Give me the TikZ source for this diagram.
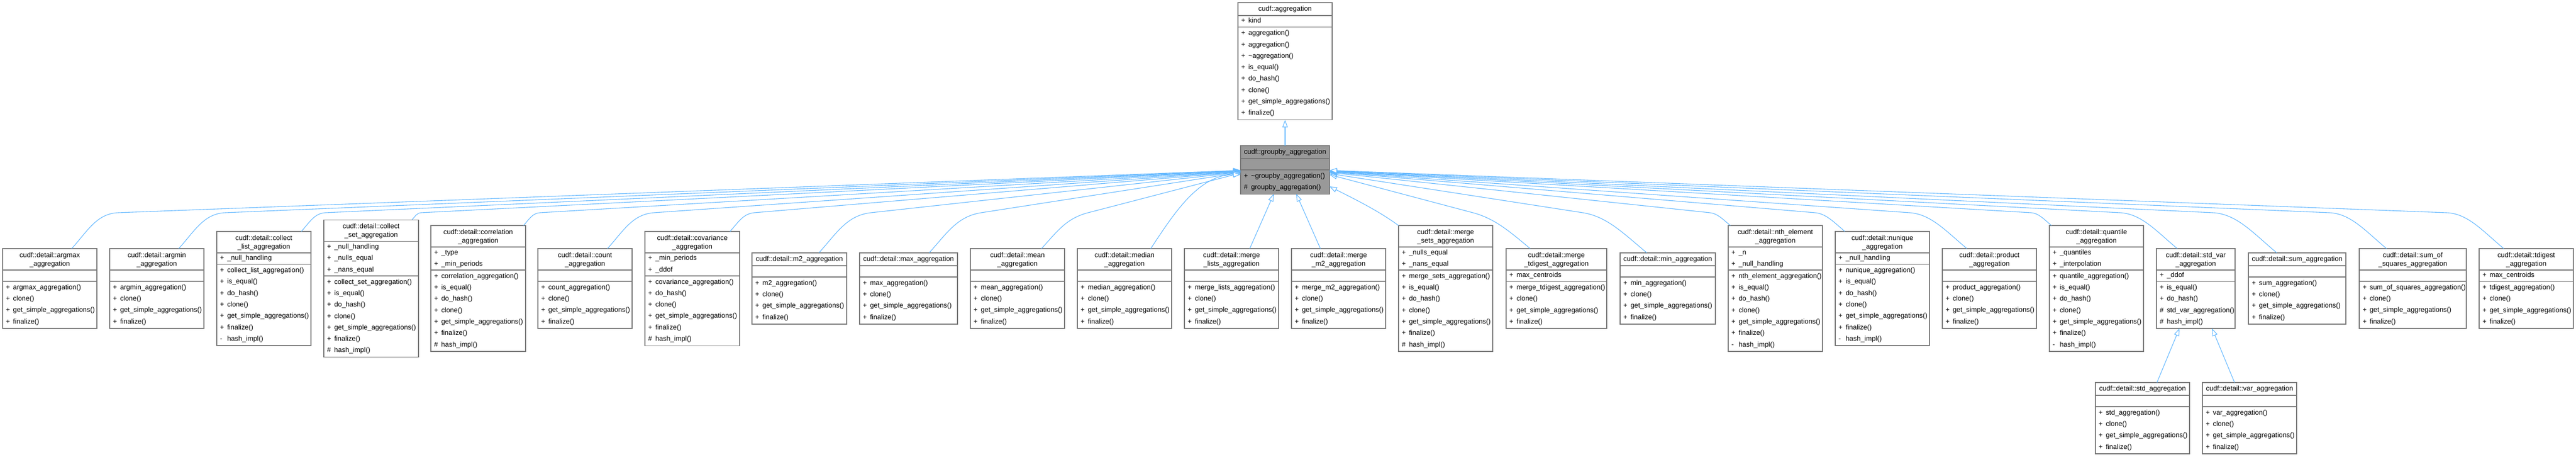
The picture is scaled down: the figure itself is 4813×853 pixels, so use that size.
\documentclass[tikz,border=0pt]{standalone}
\usepackage{fontspec}
\setmainfont{Liberation Sans}
\usetikzlibrary{arrows.meta}
\definecolor{edgeblue}{HTML}{63B8FF}
\definecolor{boxgray}{HTML}{777777}
\definecolor{gbfill}{HTML}{999999}
\tikzset{
  every node/.style={font=\fontsize{12.9pt}{16pt}\selectfont, inner sep=0pt, text=black},
  clsframe/.style={draw=boxgray, line width=1.5pt, rectangle, inner sep=0pt, outer sep=0pt},
  sepline/.style={draw=boxgray, line width=1.5pt},
  ttl/.style={align=center},
  mem/.style={anchor=west, text height=9pt, text depth=2.5pt},
  inh/.style={draw=edgeblue, line width=1.1pt, -{Triangle[length=14pt,width=10pt,fill=white]}},
}
% class box: #1 name, #2 x left, #3 y centre, #4 width, #5 fill, #6 title lines, #7 attrs, #8 methods
\newcommand\clsbox[8]{%
  \pgfmathsetmacro\ctH{(#6==1) ? 24 : 40}%
  \pgfmathsetmacro\caH{(#7==0) ? 21 : 21.5*#7}%
  \pgfmathsetmacro\cmH{21.3*#8+2.7}%
  \pgfmathsetmacro\cbH{\ctH+\caH+\cmH}%
  \pgfmathsetmacro\cyT{#3-\cbH/2}%
  \pgfmathsetmacro\cyA{\cyT+\ctH}%
  \pgfmathsetmacro\cyM{\cyA+\caH}%
  \pgfmathsetmacro\cxL{#2}%
  \pgfmathsetmacro\cxR{#2+#4}%
  \pgfmathsetmacro\cxC{#2+#4/2}%
  \pgfmathsetmacro\cyTC{\cyT+((#6==1) ? 12.5 : 21)}%
  \node[clsframe, fill=#5, minimum width=#4pt, minimum height=\cbH pt, anchor=north west] (#1) at (\cxL,\cyT) {};%
  \draw[sepline] (\cxL,\cyA) -- (\cxR,\cyA) (\cxL,\cyM) -- (\cxR,\cyM);%
  \def\curname{#1}%
}
\newcommand\clstitle[1]{\node[ttl] (\curname-t) at (\cxC,\cyTC) {#1};}
\newcommand\clsattrs[1]{%
  \foreach \sym/\mname [count=\i] in {#1} {%
    \node[mem] (\curname-a\i) at (\cxL+6, \cyA+21.5*\i-10.75) {\makebox[13.3pt][l]{\sym}\mname};}}
\newcommand\clsmeths[1]{%
  \foreach \sym/\mname [count=\i] in {#1} {%
    \node[mem] (\curname-m\i) at (\cxL+6, \cyM+1.35+21.3*\i-10.65) {\makebox[13.3pt][l]{\sym}\mname};}}
% edges to the left / right side of groupby_aggregation
\newcommand\edgeL[4]{%
  \pgfmathsetmacro\ehh{#3-397}%
  \pgfmathsetmacro\ebx{#2+1.3*\ehh}%
  \pgfmathsetmacro\eslope{(#4-397)/(2318-\ebx)}%
  \pgfmathsetmacro\eax{0.45*\ehh}%
  \pgfmathsetmacro\eay{-0.5*\ehh}%
  \pgfmathsetmacro\ecx{-0.6*\ehh}%
  \pgfmathsetmacro\ecy{-0.6*\ehh*\eslope}%
  \coordinate (#1-s) at (#2,#3);%
  \coordinate (#1-b) at (\ebx,397);%
  \coordinate (#1-e) at (2318,#4);%
  \draw[inh] (#1-s) .. controls +(\eax,\eay) and +(\ecx,\ecy) .. (#1-b) -- (#1-e);%
}
\newcommand\edgeR[4]{%
  \pgfmathsetmacro\ehh{#3-397}%
  \pgfmathsetmacro\ebx{#2-1.6*\ehh}%
  \pgfmathsetmacro\eslope{(#4-397)/(\ebx-2484)}%
  \pgfmathsetmacro\eax{-0.6*\ehh}%
  \pgfmathsetmacro\eay{-0.5*\ehh}%
  \pgfmathsetmacro\ecx{0.6*\ehh}%
  \pgfmathsetmacro\ecy{-0.6*\ehh*\eslope}%
  \coordinate (#1-s) at (#2,#3);%
  \coordinate (#1-b) at (\ebx,397);%
  \coordinate (#1-e) at (2484,#4);%
  \draw[inh] (#1-s) .. controls +(\eax,\eay) and +(\ecx,\ecy) .. (#1-b) -- (#1-e);%
}
\begin{document}
\begin{tikzpicture}[x=1pt,y=-1pt]
\path[fill=white,use as bounding box] (0,0) rectangle (4813,853);

% ---- top classes
\clsbox{agg}{2313}{114.3}{176}{white}{1}{1}{8}
\clstitle{cudf::aggregation}
\clsattrs{+/kind}
\clsmeths{+/aggregation(),+/aggregation(),+/\textasciitilde aggregation(),+/is\_equal(),+/do\_hash(),+/clone(),+/get\_simple\_aggregations(),+/finalize()}

\clsbox{gb}{2318}{317.15}{166}{gbfill}{1}{0}{2}
\clstitle{cudf::groupby\_aggregation}
\clsmeths{+/\textasciitilde groupby\_aggregation(),\#/groupby\_aggregation()}

% ---- bottom row
\clsbox{argmax}{5}{538.5}{176}{white}{2}{0}{4}
\clstitle{cudf::detail::argmax\\\_aggregation}
\clsmeths{+/argmax\_aggregation(),+/clone(),+/get\_simple\_aggregations(),+/finalize()}

\clsbox{argmin}{205}{538.5}{176}{white}{2}{0}{4}
\clstitle{cudf::detail::argmin\\\_aggregation}
\clsmeths{+/argmin\_aggregation(),+/clone(),+/get\_simple\_aggregations(),+/finalize()}

\clsbox{collectlist}{405}{538.5}{176}{white}{2}{1}{7}
\clstitle{cudf::detail::collect\\\_list\_aggregation}
\clsattrs{+/\_null\_handling}
\clsmeths{+/collect\_list\_aggregation(),+/is\_equal(),+/do\_hash(),+/clone(),+/get\_simple\_aggregations(),+/finalize(),-/hash\_impl()}

\clsbox{collectset}{605}{538.5}{177}{white}{2}{3}{7}
\clstitle{cudf::detail::collect\\\_set\_aggregation}
\clsattrs{+/\_null\_handling,+/\_nulls\_equal,+/\_nans\_equal}
\clsmeths{+/collect\_set\_aggregation(),+/is\_equal(),+/do\_hash(),+/clone(),+/get\_simple\_aggregations(),+/finalize(),\#/hash\_impl()}

\clsbox{correlation}{805}{538.5}{177}{white}{2}{2}{7}
\clstitle{cudf::detail::correlation\\\_aggregation}
\clsattrs{+/\_type,+/\_min\_periods}
\clsmeths{+/correlation\_aggregation(),+/is\_equal(),+/do\_hash(),+/clone(),+/get\_simple\_aggregations(),+/finalize(),\#/hash\_impl()}

\clsbox{count}{1005}{538.5}{176}{white}{2}{0}{4}
\clstitle{cudf::detail::count\\\_aggregation}
\clsmeths{+/count\_aggregation(),+/clone(),+/get\_simple\_aggregations(),+/finalize()}

\clsbox{covariance}{1205}{538.5}{177}{white}{2}{2}{6}
\clstitle{cudf::detail::covariance\\\_aggregation}
\clsattrs{+/\_min\_periods,+/\_ddof}
\clsmeths{+/covariance\_aggregation(),+/do\_hash(),+/clone(),+/get\_simple\_aggregations(),+/finalize(),\#/hash\_impl()}

\clsbox{mtwo}{1405}{538.5}{177}{white}{1}{0}{4}
\clstitle{cudf::detail::m2\_aggregation}
\clsmeths{+/m2\_aggregation(),+/clone(),+/get\_simple\_aggregations(),+/finalize()}

\clsbox{max}{1606}{538.5}{183}{white}{1}{0}{4}
\clstitle{cudf::detail::max\_aggregation}
\clsmeths{+/max\_aggregation(),+/clone(),+/get\_simple\_aggregations(),+/finalize()}

\clsbox{mean}{1813}{538.5}{176}{white}{2}{0}{4}
\clstitle{cudf::detail::mean\\\_aggregation}
\clsmeths{+/mean\_aggregation(),+/clone(),+/get\_simple\_aggregations(),+/finalize()}

\clsbox{median}{2013}{538.5}{176}{white}{2}{0}{4}
\clstitle{cudf::detail::median\\\_aggregation}
\clsmeths{+/median\_aggregation(),+/clone(),+/get\_simple\_aggregations(),+/finalize()}

\clsbox{mergelists}{2213}{538.5}{176}{white}{2}{0}{4}
\clstitle{cudf::detail::merge\\\_lists\_aggregation}
\clsmeths{+/merge\_lists\_aggregation(),+/clone(),+/get\_simple\_aggregations(),+/finalize()}

\clsbox{mergemtwo}{2413}{538.5}{176}{white}{2}{0}{4}
\clstitle{cudf::detail::merge\\\_m2\_aggregation}
\clsmeths{+/merge\_m2\_aggregation(),+/clone(),+/get\_simple\_aggregations(),+/finalize()}

\clsbox{mergesets}{2613}{538.5}{176}{white}{2}{2}{7}
\clstitle{cudf::detail::merge\\\_sets\_aggregation}
\clsattrs{+/\_nulls\_equal,+/\_nans\_equal}
\clsmeths{+/merge\_sets\_aggregation(),+/is\_equal(),+/do\_hash(),+/clone(),+/get\_simple\_aggregations(),+/finalize(),\#/hash\_impl()}

\clsbox{mergetdigest}{2814}{538.5}{188}{white}{2}{1}{4}
\clstitle{cudf::detail::merge\\\_tdigest\_aggregation}
\clsattrs{+/max\_centroids}
\clsmeths{+/merge\_tdigest\_aggregation(),+/clone(),+/get\_simple\_aggregations(),+/finalize()}

\clsbox{min}{3027}{538.5}{178}{white}{1}{0}{4}
\clstitle{cudf::detail::min\_aggregation}
\clsmeths{+/min\_aggregation(),+/clone(),+/get\_simple\_aggregations(),+/finalize()}

\clsbox{nth}{3229}{538.5}{176}{white}{2}{2}{7}
\clstitle{cudf::detail::nth\_element\\\_aggregation}
\clsattrs{+/\_n,+/\_null\_handling}
\clsmeths{+/nth\_element\_aggregation(),+/is\_equal(),+/do\_hash(),+/clone(),+/get\_simple\_aggregations(),+/finalize(),-/hash\_impl()}

\clsbox{nunique}{3429}{538.5}{176}{white}{2}{1}{7}
\clstitle{cudf::detail::nunique\\\_aggregation}
\clsattrs{+/\_null\_handling}
\clsmeths{+/nunique\_aggregation(),+/is\_equal(),+/do\_hash(),+/clone(),+/get\_simple\_aggregations(),+/finalize(),-/hash\_impl()}

\clsbox{product}{3629}{538.5}{176}{white}{2}{0}{4}
\clstitle{cudf::detail::product\\\_aggregation}
\clsmeths{+/product\_aggregation(),+/clone(),+/get\_simple\_aggregations(),+/finalize()}

\clsbox{quantile}{3829}{538.5}{176}{white}{2}{2}{7}
\clstitle{cudf::detail::quantile\\\_aggregation}
\clsattrs{+/\_quantiles,+/\_interpolation}
\clsmeths{+/quantile\_aggregation(),+/is\_equal(),+/do\_hash(),+/clone(),+/get\_simple\_aggregations(),+/finalize(),-/hash\_impl()}

\clsbox{stdvar}{4029}{538.5}{147}{white}{2}{1}{4}
\clstitle{cudf::detail::std\_var\\\_aggregation}
\clsattrs{+/\_ddof}
\clsmeths{+/is\_equal(),+/do\_hash(),\#/std\_var\_aggregation(),\#/hash\_impl()}

\clsbox{sum}{4201}{538.5}{182}{white}{1}{0}{4}
\clstitle{cudf::detail::sum\_aggregation}
\clsmeths{+/sum\_aggregation(),+/clone(),+/get\_simple\_aggregations(),+/finalize()}

\clsbox{sos}{4408}{538.5}{200}{white}{2}{0}{4}
\clstitle{cudf::detail::sum\_of\\\_squares\_aggregation}
\clsmeths{+/sum\_of\_squares\_aggregation(),+/clone(),+/get\_simple\_aggregations(),+/finalize()}

\clsbox{tdigest}{4632}{538.5}{176}{white}{2}{1}{4}
\clstitle{cudf::detail::tdigest\\\_aggregation}
\clsattrs{+/max\_centroids}
\clsmeths{+/tdigest\_aggregation(),+/clone(),+/get\_simple\_aggregations(),+/finalize()}

% ---- third level
\clsbox{std}{3915}{780.5}{176}{white}{1}{0}{4}
\clstitle{cudf::detail::std\_aggregation}
\clsmeths{+/std\_aggregation(),+/clone(),+/get\_simple\_aggregations(),+/finalize()}

\clsbox{var}{4115}{780.5}{176}{white}{1}{0}{4}
\clstitle{cudf::detail::var\_aggregation}
\clsmeths{+/var\_aggregation(),+/clone(),+/get\_simple\_aggregations(),+/finalize()}

% ---- inheritance connectors
\draw[inh] (gb.north) -- (agg.south);

\edgeL{argmax}{134}{464}{318}
\edgeL{argmin}{334}{464}{318.5}
\edgeL{collectlist}{563}{432}{319}
\edgeL{collectset}{770}{410}{319.5}
\edgeL{correlation}{978}{421}{320}
\edgeL{count}{1135}{464}{320.5}
\edgeL{covariance}{1364}{432}{321}
\edgeL{mtwo}{1530}{472}{321.5}
\edgeL{max}{1736}{472}{322}
\edgeL{mean}{1946}{464}{323}

\coordinate (median-s) at (2150,464);
\coordinate (median-e) at (2318,326);
\draw[inh] (median-s) .. controls +(40,-60) and +(-80,0) .. (median-e);

\coordinate (mergelists-s) at (2335,464);
\coordinate (mergelists-e) at (2380,362);
\draw[inh] (mergelists-s) -- (mergelists-e);

\coordinate (mergemtwo-s) at (2467,464);
\coordinate (mergemtwo-e) at (2422,362);
\draw[inh] (mergemtwo-s) -- (mergemtwo-e);

\coordinate (mergesets-s) at (2613,421);
\coordinate (mergesets-e) at (2484,348);
\draw[inh] (mergesets-s) .. controls +(-35,-26) and +(50,25) .. (mergesets-e);

\edgeR{mergetdigest}{2859}{464}{326}
\edgeR{min}{3077}{472}{324}
\edgeR{nth}{3233}{421}{322}
\edgeR{nunique}{3447}{432}{321}
\edgeR{product}{3675}{464}{320.5}
\edgeR{quantile}{3833}{421}{320}
\edgeR{stdvarE}{4068}{464}{319.5}
\edgeR{sum}{4254}{472}{319}
\edgeR{sos}{4459}{464}{318.5}
\edgeR{tdigest}{4678}{464}{318}

\coordinate (std-s) at (4030,714);
\coordinate (std-e) at (4072,613);
\draw[inh] (std-s) -- (std-e);
\coordinate (var-s) at (4175,714);
\coordinate (var-e) at (4133,613);
\draw[inh] (var-s) -- (var-e);
\end{tikzpicture}
\end{document}
